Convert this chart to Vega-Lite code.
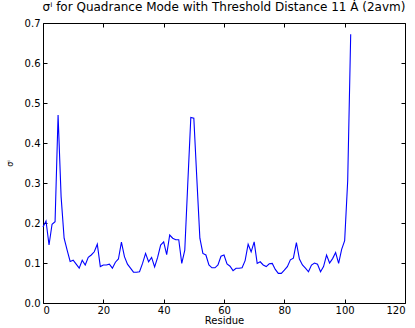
{
  "$schema": "https://vega.github.io/schema/vega-lite/v6.json",
  "autosize": {"type": "none"},
  "width": 362,
  "height": 280,
  "padding": {"left": 43, "top": 23, "right": 10, "bottom": 25},
  "background": "white",
  "title": {"text": "σⁱ  for Quadrance Mode with Threshold Distance 11 Ȧ (2avm)", "font": "DejaVu Sans", "fontSize": 12, "fontWeight": "normal", "color": "black", "offset": 4},
  "config": {
    "view": {"stroke": "black", "strokeWidth": 1},
    "axis": {"grid": false, "domain": false, "tickColor": "black", "tickSize": -4, "labelFont": "DejaVu Sans", "labelFontSize": 10, "labelColor": "black", "titleFont": "DejaVu Sans", "titleFontWeight": "normal", "titleColor": "black"}
  },
  "data": {"values": [
    {"r":0,"v":0.19},{"r":1,"v":0.205},{"r":2,"v":0.145},{"r":3,"v":0.197},{"r":4,"v":0.203},
    {"r":5,"v":0.47},{"r":6,"v":0.266},{"r":7,"v":0.162},{"r":8,"v":0.132},{"r":9,"v":0.104},
    {"r":10,"v":0.107},{"r":11,"v":0.097},{"r":12,"v":0.087},{"r":13,"v":0.107},{"r":14,"v":0.095},
    {"r":15,"v":0.114},{"r":16,"v":0.12},{"r":17,"v":0.128},{"r":18,"v":0.147},{"r":19,"v":0.091},
    {"r":20,"v":0.095},{"r":21,"v":0.095},{"r":22,"v":0.097},{"r":23,"v":0.087},{"r":24,"v":0.102},
    {"r":25,"v":0.11},{"r":26,"v":0.152},{"r":27,"v":0.116},{"r":28,"v":0.097},{"r":29,"v":0.087},
    {"r":30,"v":0.077},{"r":31,"v":0.077},{"r":32,"v":0.078},{"r":33,"v":0.099},{"r":34,"v":0.124},
    {"r":35,"v":0.103},{"r":36,"v":0.114},{"r":37,"v":0.09},{"r":38,"v":0.114},{"r":39,"v":0.145},
    {"r":40,"v":0.153},{"r":41,"v":0.121},{"r":42,"v":0.17},{"r":43,"v":0.162},{"r":44,"v":0.158},
    {"r":45,"v":0.158},{"r":46,"v":0.099},{"r":47,"v":0.132},{"r":48,"v":0.3},{"r":49,"v":0.464},
    {"r":50,"v":0.462},{"r":51,"v":0.31},{"r":52,"v":0.162},{"r":53,"v":0.124},{"r":54,"v":0.12},
    {"r":55,"v":0.095},{"r":56,"v":0.088},{"r":57,"v":0.088},{"r":58,"v":0.095},{"r":59,"v":0.117},
    {"r":60,"v":0.12},{"r":61,"v":0.0975},{"r":62,"v":0.092},{"r":63,"v":0.081},{"r":64,"v":0.087},
    {"r":65,"v":0.087},{"r":66,"v":0.088},{"r":67,"v":0.106},{"r":68,"v":0.147},{"r":69,"v":0.128},
    {"r":70,"v":0.153},{"r":71,"v":0.099},{"r":72,"v":0.103},{"r":73,"v":0.095},{"r":74,"v":0.091},
    {"r":75,"v":0.098},{"r":76,"v":0.099},{"r":77,"v":0.084},{"r":78,"v":0.074},{"r":79,"v":0.074},
    {"r":80,"v":0.082},{"r":81,"v":0.091},{"r":82,"v":0.108},{"r":83,"v":0.112},{"r":84,"v":0.151},
    {"r":85,"v":0.11},{"r":86,"v":0.095},{"r":87,"v":0.087},{"r":88,"v":0.078},{"r":89,"v":0.095},
    {"r":90,"v":0.1},{"r":91,"v":0.097},{"r":92,"v":0.078},{"r":93,"v":0.091},{"r":94,"v":0.12},
    {"r":95,"v":0.1},{"r":96,"v":0.111},{"r":97,"v":0.126},{"r":98,"v":0.099},{"r":99,"v":0.134},
    {"r":100,"v":0.156},{"r":101,"v":0.305},{"r":102,"v":0.672}
  ]},
  "layer": [
    {
      "mark": {"type": "line", "color": "#0000ff", "strokeWidth": 1.1},
      "encoding": {
        "x": {"field": "r", "type": "quantitative", "scale": {"domain": [0, 120], "nice": false, "zero": false},
              "axis": {"title": "Residue", "values": [0,20,40,60,80,100,120], "titleFontSize": 10, "titlePadding": 0, "labelPadding": 6}},
        "y": {"field": "v", "type": "quantitative", "scale": {"domain": [0, 0.7], "nice": false},
              "axis": {"title": "σⁱ", "values": [0,0.1,0.2,0.3,0.4,0.5,0.6,0.7], "format": ".1f", "titleFontSize": 8, "titlePadding": 10, "labelPadding": 7}}
      }
    },
    {
      "mark": {"type": "line", "opacity": 0},
      "encoding": {
        "x": {"field": "r", "type": "quantitative", "axis": {"orient": "top", "title": null, "labels": false, "values": [0,20,40,60,80,100,120]}},
        "y": {"field": "v", "type": "quantitative", "axis": {"orient": "right", "title": null, "labels": false, "values": [0,0.1,0.2,0.3,0.4,0.5,0.6,0.7]}}
      }
    }
  ],
  "resolve": {"axis": {"x": "independent", "y": "independent"}}
}
